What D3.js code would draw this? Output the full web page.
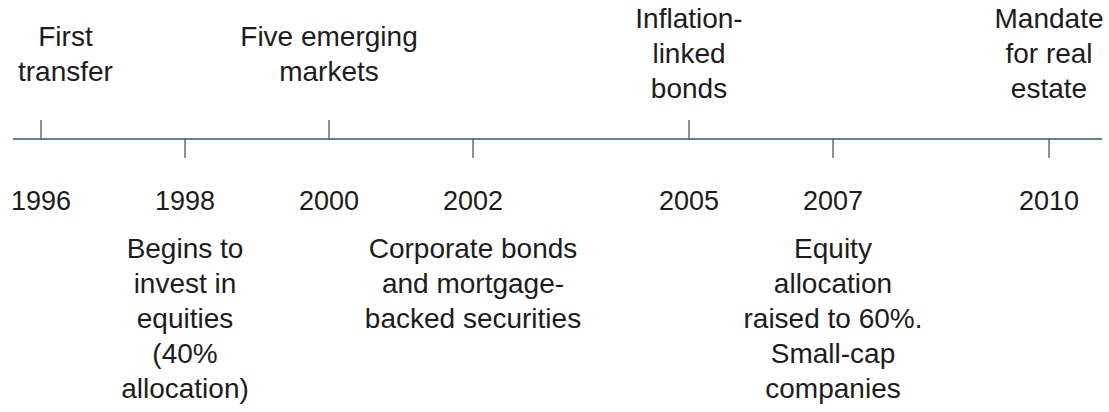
<!DOCTYPE html>
<meta charset="utf-8">
<style>
body {
    margin: 0;
    background: #fff;
}
svg {
    font-family: "Liberation Sans", Arial, Helvetica, sans-serif;
    font-size: 27px;
}
.axis-line {
    stroke: #2e5668;
    stroke-width: 1.5;
}
.tick-mark {
    stroke: #4a4a4a;
    stroke-width: 1.2;
}
.event text, .year {
    fill: #1c1c1c;
}
.desc {
    font-size: 28px;
}
</style>
<body>
<svg width="1109" height="412"></svg>
<script src="https://d3js.org/d3.v7.min.js"></script>
<script>
var years = [1996, 1998, 2000, 2002, 2005, 2007, 2010];

var events = [
    ["First", "transfer"],
    ["Begins to", "invest in", "equities", "(40%", "allocation)"],
    ["Five emerging", "markets"],
    ["Corporate bonds", "and mortgage-", "backed securities"],
    ["Inflation-", "linked", "bonds"],
    ["Equity", "allocation", "raised to 60%.", "Small-cap", "companies"],
    ["Mandate", "for real", "estate"]
];

// which side of the line the text sits, and which way the tick points
var textSide = ["above", "below", "above", "below", "above", "below", "above"];
var tickSide = ["up", "down", "up", "down", "up", "down", "down"];

var svg = d3.select("svg"),
    width = +svg.attr("width"),
    height = +svg.attr("height");

var lineY = 139,
    tickLen = 19,
    lineHeight = 35,
    pad = 18;

var x = d3.scaleLinear()
    .domain([d3.min(years), d3.max(years)])
    .range([41, 1049]);

// main timeline
svg.append("line")
    .attr("class", "axis-line")
    .attr("x1", 13)
    .attr("x2", 1102)
    .attr("y1", lineY)
    .attr("y2", lineY);

var ev = svg.selectAll("g.event")
    .data(years.map(function(y, i) {
        return {year: y, lines: events[i], side: textSide[i], tick: tickSide[i]};
    }))
    .enter().append("g")
    .attr("class", "event");

ev.append("line")
    .attr("class", "tick-mark")
    .attr("x1", function(d) { return x(d.year); })
    .attr("x2", function(d) { return x(d.year); })
    .attr("y1", lineY)
    .attr("y2", function(d) { return d.tick == "up" ? lineY - tickLen : lineY + tickLen; });

// year labels under the line
ev.append("text")
    .attr("class", "year")
    .attr("x", function(d) { return x(d.year); })
    .attr("y", 210)
    .attr("text-anchor", "middle")
    .text(function(d) { return d.year; });

// event descriptions
var desc = ev.append("text")
    .attr("class", "desc")
    .attr("text-anchor", "middle");

desc.selectAll("tspan")
    .data(function(d) { return d.lines; })
    .enter().append("tspan")
    .text(function(s) { return s; });

desc.each(function(d) {
    var t = d3.select(this),
        n = d.lines.length,
        w = 0;
    // widest line, to keep the block inside the picture
    t.selectAll("tspan").each(function() {
        w = Math.max(w, this.getComputedTextLength());
    });
    var cx = Math.max(pad + w / 2, Math.min(width - 4 - w / 2, x(d.year)));
    var firstY;
    if (d.side == "above") {
        // block centred around a middle baseline
        firstY = 63 - (n - 1) * lineHeight / 2;
    } else {
        firstY = 258;
    }
    t.selectAll("tspan")
        .attr("x", cx)
        .attr("y", function(s, i) { return firstY + i * lineHeight; });
});
</script>
</body>
